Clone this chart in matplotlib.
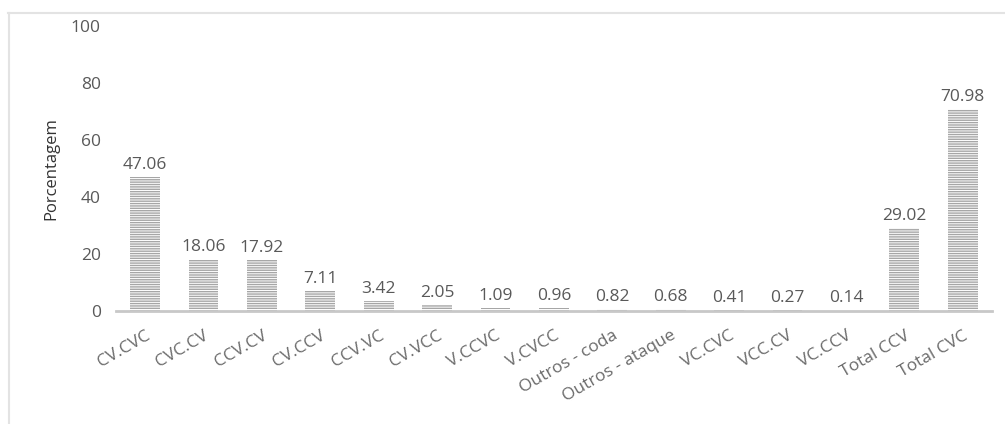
import matplotlib
matplotlib.use("Agg")
import matplotlib.pyplot as plt
from matplotlib.lines import Line2D

categories = ["CV.CVC", "CVC.CV", "CCV.CV", "CV.CCV", "CCV.VC", "CV.VCC", "V.CCVC",
              "V.CVCC", "Outros - coda", "Outros - ataque", "VC.CVC", "VCC.CV",
              "VC.CCV", "Total CCV", "Total CVC"]
values = [47.06, 18.06, 17.92, 7.11, 3.42, 2.05, 1.09, 0.96, 0.82, 0.68, 0.41,
          0.27, 0.14, 29.02, 70.98]
yticks = [0, 20, 40, 60, 80, 100]

plt.rcParams['font.family'] = ['Open Sans', 'DejaVu Sans']
txt = '#595959'

fig = plt.figure(figsize=(10.05, 4.24), dpi=100)
ax = fig.add_axes([0.1154, 0.2665, 0.987 - 0.1154, 0.9387 - 0.2665])

x = list(range(len(categories)))
ax.bar(x, values, width=0.51, color='white', edgecolor='#a6a6a6',
       linewidth=0, hatch='-------')

for xi, v in zip(x, values):
    ax.annotate(f"{v:.2f}", (xi, v), xytext=(0, 3), textcoords='offset points',
                ha='center', va='bottom', fontsize=12.5, color=txt)

ax.set_xlim(-0.5, len(categories) - 0.5)
ax.set_ylim(0, 100)
ax.set_yticks(yticks)
ax.set_yticklabels([str(t) for t in yticks], fontsize=12.5, color=txt)
ax.tick_params(axis='y', length=0, pad=11)
ax.tick_params(axis='x', length=0, pad=12)
ax.set_xticks(x)
ax.set_xticklabels(categories, rotation=30, ha='right', rotation_mode='anchor',
                   fontsize=12.5, color='#6a6a6a')
for s in ['top', 'right', 'left']:
    ax.spines[s].set_visible(False)
ax.spines['bottom'].set_color('#c8c8c8')
ax.spines['bottom'].set_linewidth(2)
ax.set_ylabel("Porcentagem", fontsize=12, color='#333333', labelpad=8)

# chart frame (top and left edges visible)
fig.add_artist(Line2D([8 / 1005, 1.0], [1 - 12.5 / 424, 1 - 12.5 / 424],
                      transform=fig.transFigure, color='#e3e3e3', lw=1.5))
fig.add_artist(Line2D([8.5 / 1005, 8.5 / 1005], [0, 1 - 12.5 / 424],
                      transform=fig.transFigure, color='#e3e3e3', lw=1.5))

fig.savefig("out.png", dpi=100)
